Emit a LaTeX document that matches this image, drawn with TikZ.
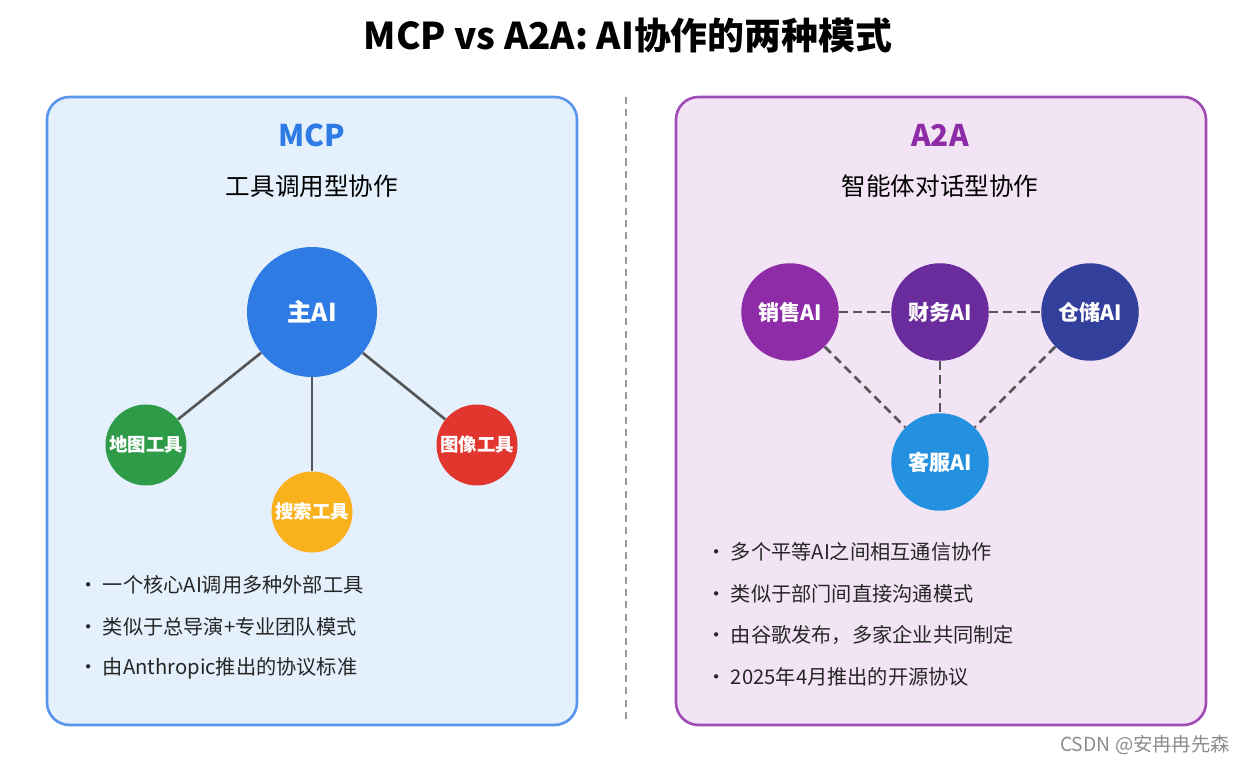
\documentclass[tikz,border=0pt]{standalone}
\usepackage{fontspec}
\setmainfont{Noto Sans CJK SC}
\usetikzlibrary{positioning}
\definecolor{mcpblue}{HTML}{2F7BE5}
\definecolor{mcpfill}{HTML}{E4F0FC}
\definecolor{aapurple}{HTML}{8E2CA8}
\definecolor{aafill}{HTML}{F3E4F5}
\definecolor{mapgreen}{HTML}{2E9B48}
\definecolor{searchorange}{HTML}{F9B21E}
\definecolor{imgred}{HTML}{E0362E}
\definecolor{salepurple}{HTML}{8E2CA8}
\definecolor{finpurple}{HTML}{6A2C9C}
\definecolor{storeblue}{HTML}{323F9B}
\definecolor{servblue}{HTML}{2391E0}
\definecolor{linkgray}{HTML}{555555}
\begin{document}
\begin{tikzpicture}
  [x=0.02cm, y=-0.02cm,
    panel/.style={rounded corners=0.45cm, line width=1.5pt},
    ball/.style={circle, text=white, font=\bfseries\fontsize{12}{14}\selectfont, inner sep=0pt},
    tool/.style={ball, minimum size=1.62cm, font=\bfseries\fontsize{10.5}{12}\selectfont},
    agent/.style={ball, minimum size=1.95cm},
    solidlink/.style={draw=linkgray, line width=1.5pt},
    dashlink/.style={draw=linkgray, line width=1.5pt, dash pattern=on 5pt off 3pt},
    item/.style={anchor=west, font=\fontsize{11.5}{13}\selectfont, text=black!85}
  ]
  \useasboundingbox (0,0) rectangle (1256,766);
  \node (title) at (628,35) {\bfseries\fontsize{21}{25}\selectfont MCP vs A2A: AI协作的两种模式};
  \draw [dash pattern=on 4pt off 3pt, draw=black!40, line width=0.8pt] (626,97) -- (626,720);

  % MCP panel
  \draw [panel, draw=mcpblue!80, fill=mcpfill] (47,97) rectangle (577,725);
  \node (mcpHead) at (312,135) {\bfseries\fontsize{17}{20}\selectfont\color{mcpblue} MCP};
  \node (mcpSub) at (312,186) {\fontsize{14}{16}\selectfont 工具调用型协作};
  \node (mainAI) at (312,312) [ball, fill=mcpblue, minimum size=2.6cm, font=\bfseries\fontsize{14}{16}\selectfont] {主AI};
  \node (mapTool) at (146,445) [tool, fill=mapgreen] {地图工具};
  \node (searchTool) at (312,512) [tool, fill=searchorange] {搜索工具};
  \node (imgTool) at (477,445) [tool, fill=imgred] {图像工具};
  \draw [solidlink] (mainAI) -- (mapTool);
  \draw [solidlink] (mainAI) -- (searchTool);
  \draw [solidlink] (mainAI) -- (imgTool);
  \node (mcpA) at (72,585) [item] {• 一个核心AI调用多种外部工具};
  \node (mcpB) at (72,627) [item] {• 类似于总导演+专业团队模式};
  \node (mcpC) at (72,668) [item] {• 由Anthropic推出的协议标准};

  % A2A panel
  \draw [panel, draw=aapurple!85, fill=aafill] (676,97) rectangle (1206,725);
  \node (aaHead) at (940,135) {\bfseries\fontsize{17}{20}\selectfont\color{aapurple} A2A};
  \node (aaSub) at (940,186) {\fontsize{14}{16}\selectfont 智能体对话型协作};
  \node (saleAI) at (790,312) [agent, fill=salepurple] {销售AI};
  \node (finAI) at (940,312) [agent, fill=finpurple] {财务AI};
  \node (storeAI) at (1090,312) [agent, fill=storeblue] {仓储AI};
  \node (servAI) at (940,462) [agent, fill=servblue] {客服AI};
  \draw [dashlink] (saleAI) -- (finAI);
  \draw [dashlink] (finAI) -- (storeAI);
  \draw [dashlink] (saleAI) -- (servAI);
  \draw [dashlink] (finAI) -- (servAI);
  \draw [dashlink] (storeAI) -- (servAI);
  \node (aaA) at (700,552) [item] {• 多个平等AI之间相互通信协作};
  \node (aaB) at (700,594) [item] {• 类似于部门间直接沟通模式};
  \node (aaC) at (700,635) [item] {• 由谷歌发布，多家企业共同制定};
  \node (aaD) at (700,677) [item] {• 2025年4月推出的开源协议};

  \node (mark) at (1145,745) {\fontsize{11}{13}\selectfont\color{black!45} CSDN @安冉冉先森};
\end{tikzpicture}
\end{document}
